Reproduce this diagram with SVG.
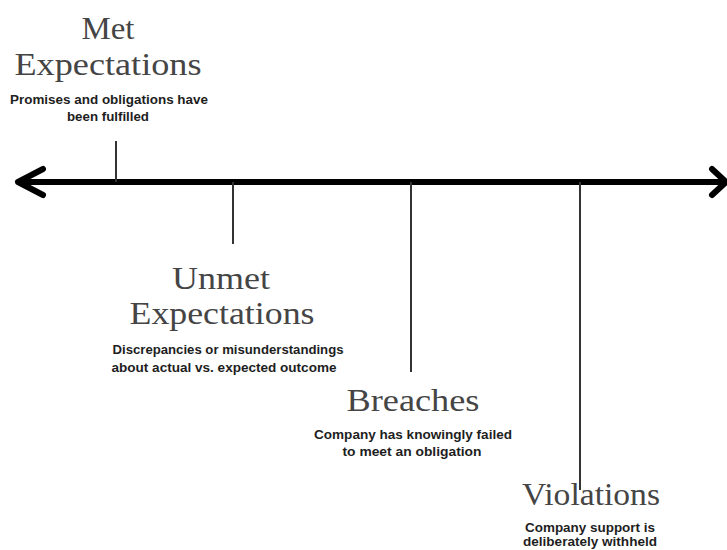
<svg xmlns="http://www.w3.org/2000/svg" width="727" height="550" viewBox="0 0 727 550">
  <style>
    .title { font-family: "Liberation Serif", "DejaVu Serif", serif; font-size: 31px; fill: #454545; text-anchor: middle; }
    .desc { font-family: "Liberation Sans", Arial, sans-serif; font-size: 12px; font-weight: bold; fill: #1e1e1e; text-anchor: middle; }
    .tick { stroke: #333; stroke-width: 2; fill: none; }
    .axis { stroke: #000; stroke-width: 6; fill: none; stroke-linecap: round; stroke-linejoin: round; }
  </style>
  <rect width="727" height="550" fill="#fff"/>

  <!-- timeline axis with double arrowheads -->
  <g id="connectors">
    <line class="axis" x1="20" y1="182" x2="724" y2="182"/>
    <polyline class="axis" points="43,169 18,182 43,195"/>
    <polyline class="axis" points="712,169 726,182 712,195"/>
    <line class="tick" x1="116" y1="141" x2="116" y2="182"/>
    <line class="tick" x1="233" y1="182" x2="233" y2="244"/>
    <line class="tick" x1="411" y1="182" x2="411" y2="372"/>
    <line class="tick" x1="580" y1="182" x2="580" y2="490"/>
  </g>

  <g id="met-expectations">
    <text class="title" x="108" y="39" textLength="53" lengthAdjust="spacingAndGlyphs">Met</text>
    <text class="title" x="108" y="75" textLength="187" lengthAdjust="spacingAndGlyphs">Expectations</text>
    <text class="desc" x="109" y="104" textLength="198" lengthAdjust="spacingAndGlyphs">Promises and obligations have</text>
    <text class="desc" x="108" y="121" textLength="82" lengthAdjust="spacingAndGlyphs">been fulfilled</text>
  </g>

  <g id="unmet-expectations">
    <text class="title" x="221" y="289" textLength="98" lengthAdjust="spacingAndGlyphs">Unmet</text>
    <text class="title" x="222" y="324" textLength="185" lengthAdjust="spacingAndGlyphs">Expectations</text>
    <text class="desc" x="228" y="354" textLength="231" lengthAdjust="spacingAndGlyphs">Discrepancies or misunderstandings</text>
    <text class="desc" x="224" y="372" textLength="225" lengthAdjust="spacingAndGlyphs">about actual vs. expected outcome</text>
  </g>

  <g id="breaches">
    <text class="title" x="413" y="411" textLength="133" lengthAdjust="spacingAndGlyphs">Breaches</text>
    <text class="desc" x="413" y="439" textLength="198" lengthAdjust="spacingAndGlyphs">Company has knowingly failed</text>
    <text class="desc" x="412" y="456" textLength="139" lengthAdjust="spacingAndGlyphs">to meet an obligation</text>
  </g>

  <g id="violations">
    <text class="title" x="591" y="505" textLength="138" lengthAdjust="spacingAndGlyphs">Violations</text>
    <text class="desc" x="590" y="532" textLength="130" lengthAdjust="spacingAndGlyphs">Company support is</text>
    <text class="desc" x="590" y="546" textLength="134" lengthAdjust="spacingAndGlyphs">deliberately withheld</text>
  </g>
</svg>
